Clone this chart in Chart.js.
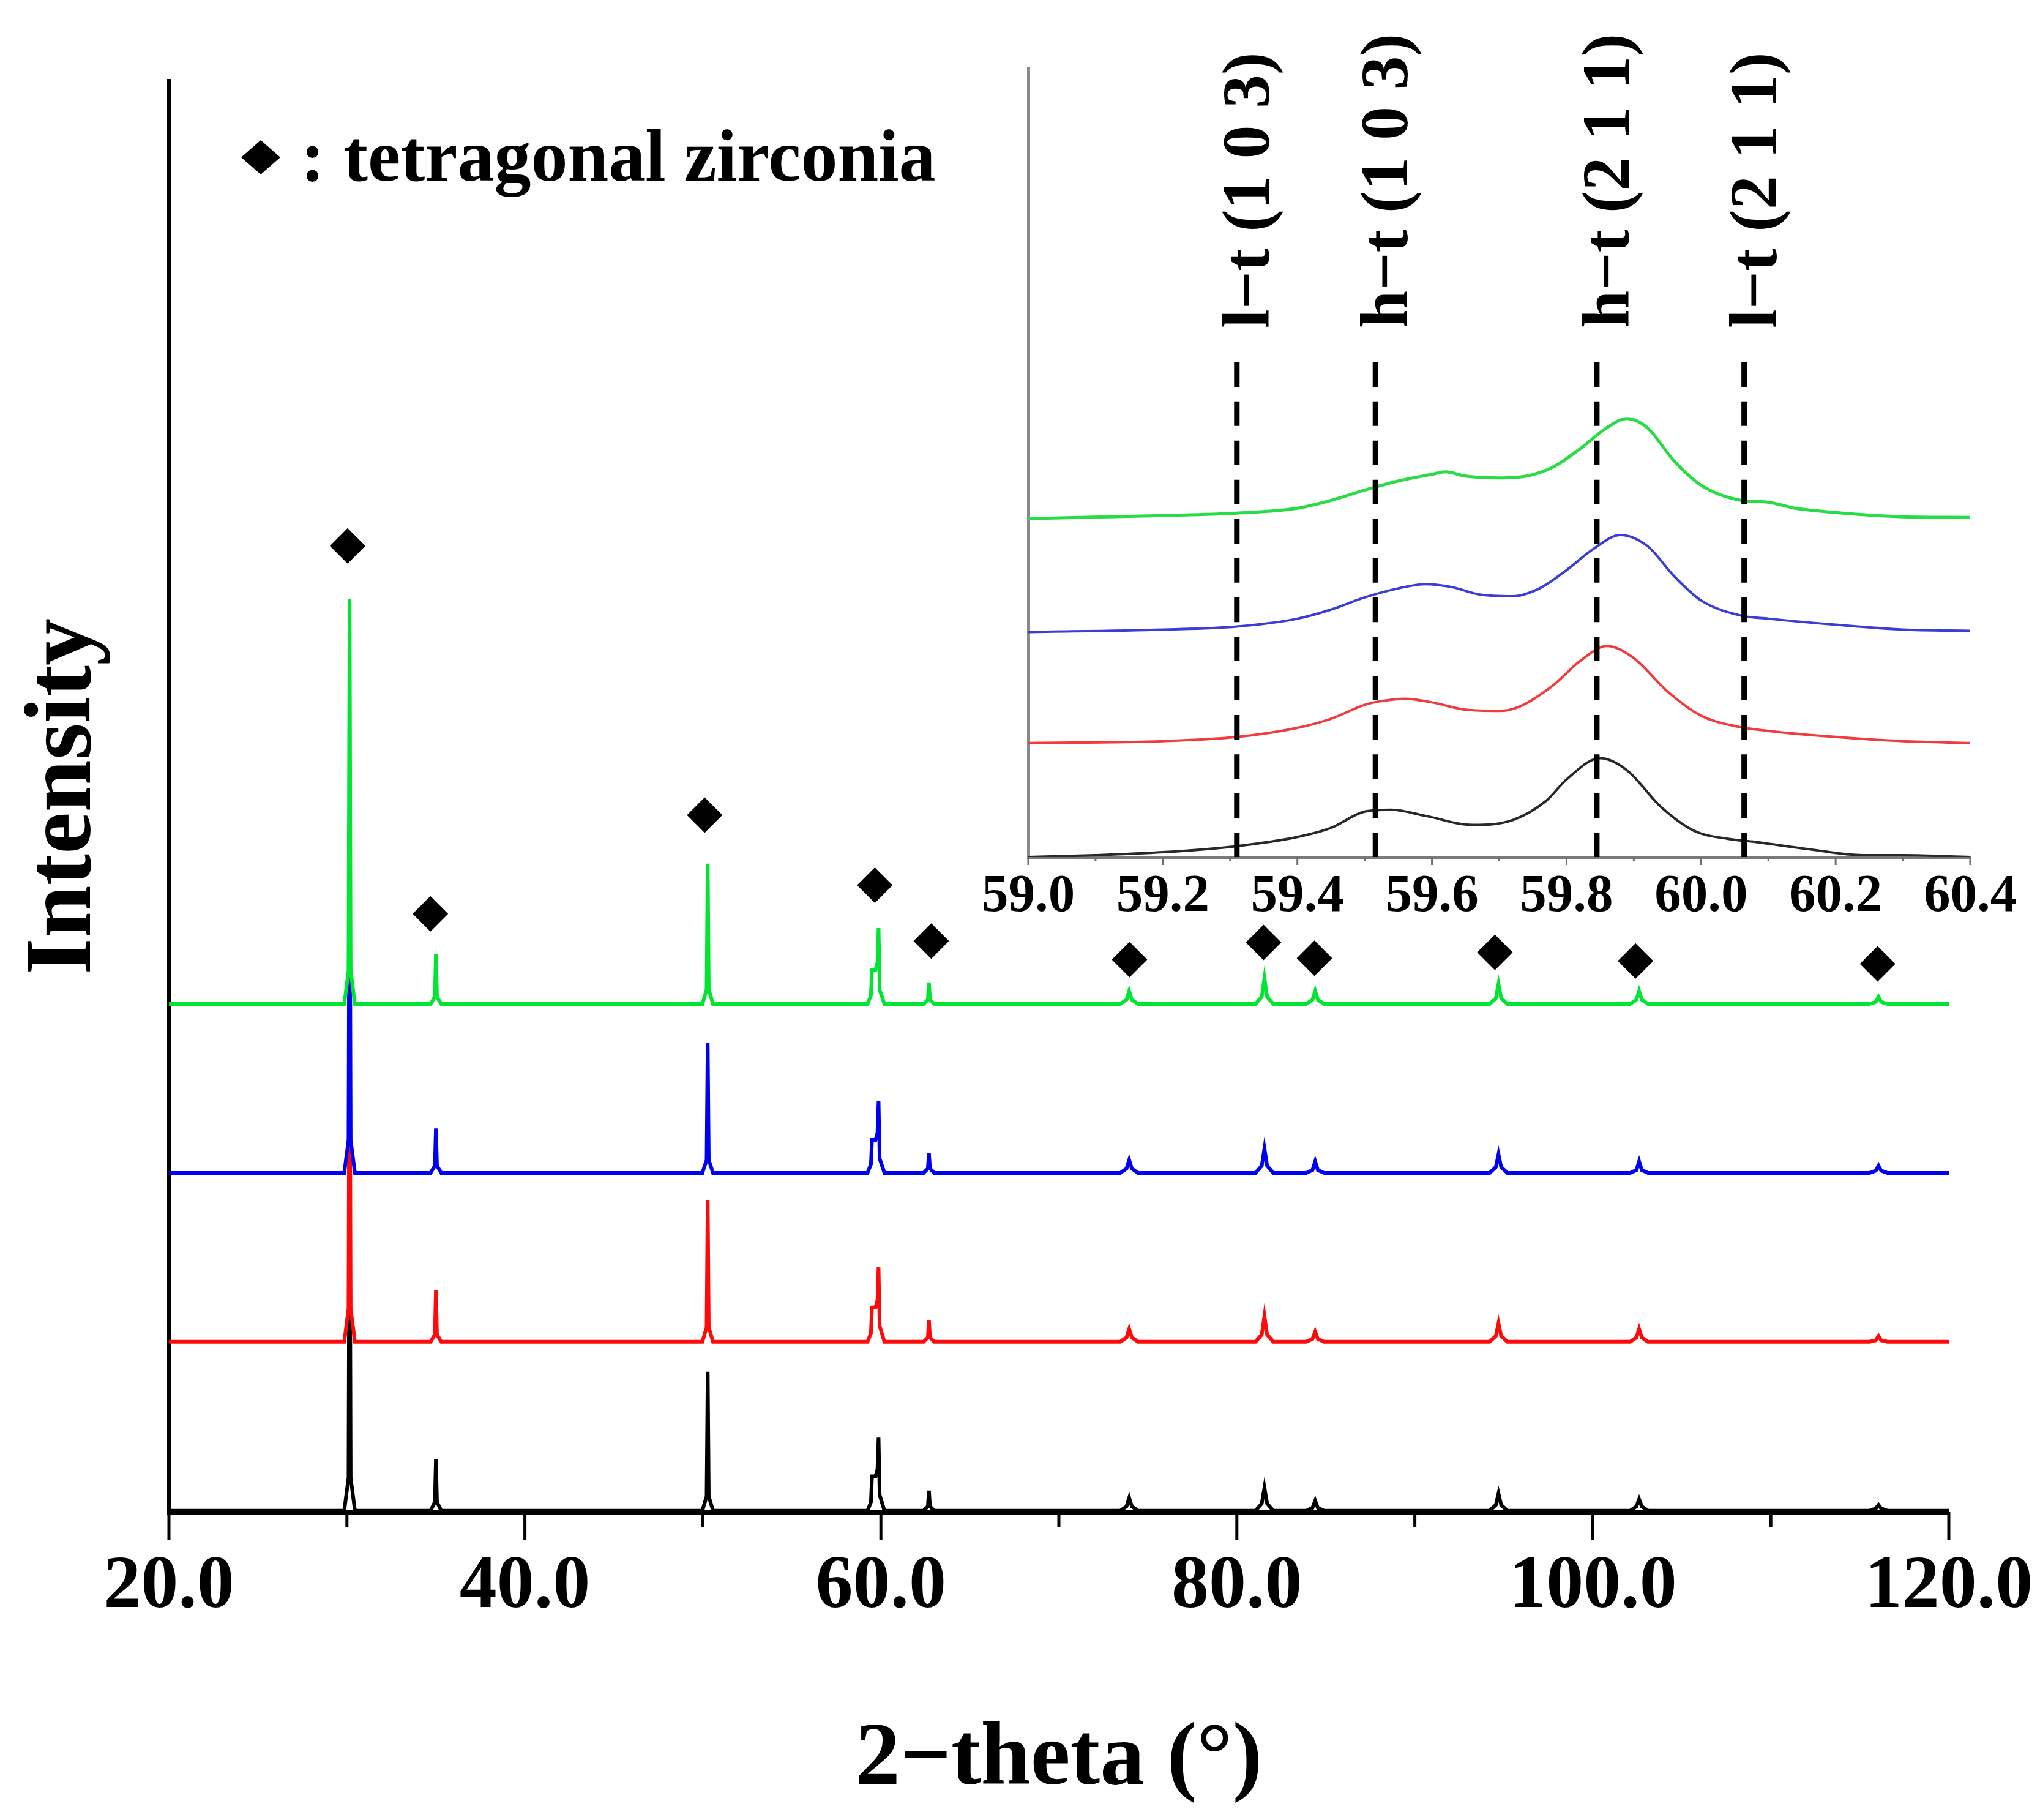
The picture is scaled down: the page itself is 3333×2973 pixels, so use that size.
<!DOCTYPE html>
<html lang="en">

<head>
    <meta charset="UTF-8">
    <title>XRD tetragonal zirconia</title>
    <script src="https://cdn.jsdelivr.net/npm/chart.js"></script>
    <style>
        body {
            margin: 0;
            padding: 0;
            background-color: #ffffff;
            overflow: hidden;
        }

        .main-box {
            position: absolute;
            left: 0;
            top: 0;
            width: 3333px;
            height: 2973px;
        }

        .inset-box {
            position: absolute;
            left: 1400px;
            top: 0;
            width: 1933px;
            height: 1560px;
        }
    </style>
</head>

<body>
    <div class="main-box"><canvas id="mainChart"></canvas></div>
    <div class="inset-box"><canvas id="insetChart"></canvas></div>

    <script>
        // ---- main pattern (offset stacked traces) ----
        const theta = [20,
            29.85, 30.09, 30.15, 30.21, 30.45,
            34.7, 34.94, 35.0, 35.06, 35.3,
            49.97, 50.21, 50.27, 50.33, 50.57,
            59.25, 59.44, 59.5, 59.7, 59.81, 59.87, 59.93, 60.2,
            62.4, 62.64, 62.7, 62.76, 63.0,
            73.45, 73.8, 73.95, 74.1, 74.45,
            81.05, 81.4, 81.55, 81.7, 82.05,
            83.9, 84.25, 84.4, 84.55, 84.9,
            94.2, 94.55, 94.7, 94.85, 95.2,
            102.1, 102.45, 102.6, 102.75, 103.1,
            115.55, 115.9, 116.05, 116.2, 116.55,
            120];

        const greenI = [35.5,
            35.5, 37.8, 63.8, 37.8, 35.5,
            35.5, 36.0, 39.0, 36.0, 35.5,
            35.5, 36.5, 45.3, 36.5, 35.5,
            35.5, 36.1, 37.9, 37.9, 38.4, 40.8, 36.5, 35.5,
            35.5, 35.8, 37.0, 35.8, 35.5,
            35.5, 35.8, 36.4, 35.8, 35.5,
            35.5, 36.0, 37.3, 36.0, 35.5,
            35.5, 35.8, 36.4, 35.8, 35.5,
            35.5, 35.9, 36.9, 35.9, 35.5,
            35.5, 35.8, 36.4, 35.8, 35.5,
            35.5, 35.65, 36.0, 35.65, 35.5,
            35.5];

        const blueI = [23.7,
            23.7, 26.0, 52.0, 26.0, 23.7,
            23.7, 24.2, 26.8, 24.2, 23.7,
            23.7, 24.6, 32.8, 24.6, 23.7,
            23.7, 24.3, 26.0, 26.0, 26.5, 28.7, 24.7, 23.7,
            23.7, 24.0, 25.1, 24.0, 23.7,
            23.7, 24.0, 24.6, 24.0, 23.7,
            23.7, 24.2, 25.4, 24.2, 23.7,
            23.7, 23.9, 24.5, 23.9, 23.7,
            23.7, 24.1, 25.0, 24.1, 23.7,
            23.7, 23.9, 24.5, 23.9, 23.7,
            23.7, 23.85, 24.2, 23.85, 23.7,
            23.7];

        const redI = [11.9,
            11.9, 14.2, 40.2, 14.2, 11.9,
            11.9, 12.4, 15.5, 12.4, 11.9,
            11.9, 12.9, 21.8, 12.9, 11.9,
            11.9, 12.5, 14.3, 14.3, 14.8, 17.1, 13.0, 11.9,
            11.9, 12.2, 13.4, 12.2, 11.9,
            11.9, 12.2, 12.8, 12.2, 11.9,
            11.9, 12.4, 13.7, 12.4, 11.9,
            11.9, 12.1, 12.6, 12.1, 11.9,
            11.9, 12.3, 13.2, 12.3, 11.9,
            11.9, 12.2, 12.8, 12.2, 11.9,
            11.9, 12.0, 12.3, 12.0, 11.9,
            11.9];

        const blackI = [0.1,
            0.1, 2.4, 28.5, 2.4, 0.1,
            0.1, 0.7, 3.7, 0.7, 0.1,
            0.1, 1.1, 9.8, 1.1, 0.1,
            0.1, 0.7, 2.5, 2.5, 3.0, 5.2, 1.2, 0.1,
            0.1, 0.4, 1.5, 0.4, 0.1,
            0.1, 0.4, 1.0, 0.4, 0.1,
            0.1, 0.6, 1.7, 0.6, 0.1,
            0.1, 0.3, 0.8, 0.3, 0.1,
            0.1, 0.5, 1.3, 0.5, 0.1,
            0.1, 0.4, 0.9, 0.4, 0.1,
            0.1, 0.25, 0.5, 0.25, 0.1,
            0.1];

        // diamond markers (tetragonal zirconia)
        const markTheta = [30.04, 34.69, 50.1, 59.66, 62.83, 73.97, 81.5, 84.36, 94.5, 102.4, 116.0];
        const markI = [67.5, 41.8, 48.7, 43.8, 39.9, 38.6, 39.8, 38.7, 39.1, 38.5, 38.3];

        // ---- inset 59.0 - 60.4 ----
        const inBlackX = [59.0, 59.1, 59.2, 59.31, 59.4, 59.45, 59.5, 59.54, 59.59, 59.66, 59.72, 59.77, 59.8, 59.85, 59.89, 59.94, 59.99, 60.04, 60.08, 60.16, 60.24, 60.3, 60.4];
        const inBlackY = [0, 3, 8, 18, 33, 48, 75, 78, 68, 53, 61, 93, 128, 163, 143, 83, 43, 30, 25, 13, 3, 3, 0];
        const inRedX = [59.0, 59.2, 59.31, 59.4, 59.45, 59.5, 59.53, 59.56, 59.6, 59.65, 59.7, 59.73, 59.78, 59.82, 59.86, 59.9, 59.95, 60.0, 60.05, 60.1, 60.2, 60.3, 60.4];
        const inRedY = [188, 191, 198, 213, 228, 251, 258, 261, 255, 243, 241, 248, 283, 323, 348, 328, 273, 233, 216, 208, 198, 191, 188];
        const inBlueX = [59.0, 59.2, 59.31, 59.4, 59.45, 59.5, 59.55, 59.59, 59.63, 59.67, 59.72, 59.76, 59.8, 59.84, 59.88, 59.92, 59.96, 60.0, 60.06, 60.1, 60.2, 60.3, 60.4];
        const inBlueY = [371, 375, 380, 393, 408, 428, 443, 450, 445, 433, 430, 443, 473, 508, 531, 513, 463, 423, 398, 393, 383, 375, 373];
        const inGreenX = [59.0, 59.2, 59.31, 59.4, 59.45, 59.5, 59.55, 59.6, 59.62, 59.65, 59.7, 59.74, 59.78, 59.82, 59.86, 59.89, 59.92, 59.96, 60.0, 60.06, 60.1, 60.14, 60.2, 60.3, 60.4];
        const inGreenY = [558, 563, 567, 575, 588, 605, 620, 631, 635, 628, 625, 628, 643, 673, 708, 723, 708, 653, 613, 588, 585, 575, 568, 561, 560];

        // reference positions (dashed lines)
        const refTheta = [59.31, 59.516, 59.845, 60.064];
        const refLabels = ['l\u2212t (1 0 3)', 'h\u2212t (1 0 3)', 'h\u2212t (2 1 1)', 'l\u2212t (2 1 1)'];
        const refTop = 838;

        const serif = "'Liberation Serif', 'Times New Roman', serif";
        Chart.defaults.font.family = serif;
        Chart.defaults.color = '#000';

        const pts = (xs, ys) => xs.map((x, i) => ({ x: x, y: ys[i] }));

        function trace(data, color, width) {
            return {
                data: data,
                borderColor: color,
                borderWidth: width,
                pointRadius: 0,
                fill: false
            };
        }

        // fixed axis box sizes, no extra room for edge labels
        function fixBox(w, h) {
            return s => {
                if (w !== null) s.width = w;
                if (h !== null) s.height = h;
                s.paddingLeft = 0;
                s.paddingRight = 0;
                s.paddingTop = 0;
                s.paddingBottom = 0;
            };
        }

        // tick marks under the main x axis (long every 20, short every 10)
        const mainTicks = {
            id: 'mainTicks',
            afterDraw(chart) {
                const x = chart.scales.x;
                const c = chart.ctx;
                const y0 = chart.chartArea.bottom;
                c.save();
                c.strokeStyle = '#000';
                c.lineWidth = 5;
                for (let v = x.min; v <= x.max; v += 10) {
                    const px = x.getPixelForValue(v);
                    c.beginPath();
                    c.moveTo(px, y0);
                    c.lineTo(px, y0 + ((v - x.min) % 20 === 0 ? 45 : 24));
                    c.stroke();
                }
                c.restore();
            }
        };

        // "◆ : tetragonal zirconia" note
        const markNote = {
            id: 'markNote',
            afterDraw(chart) {
                const c = chart.ctx;
                c.save();
                c.fillStyle = '#000';
                c.beginPath();
                c.moveTo(426, 257 - 28);
                c.lineTo(426 + 32, 257);
                c.lineTo(426, 257 + 28);
                c.lineTo(426 - 32, 257);
                c.closePath();
                c.fill();
                c.font = 'bold 120px ' + serif;
                c.textBaseline = 'alphabetic';
                c.textAlign = 'left';
                c.fillText(': tetragonal zirconia', 491, 295);
                c.restore();
            }
        };

        const mainChart = new Chart(document.getElementById('mainChart'), {
            type: 'line',
            data: {
                datasets: [{
                    type: 'scatter',
                    data: pts(markTheta, markI),
                    pointStyle: 'rectRot',
                    pointRadius: 29,
                    backgroundColor: '#000',
                    borderWidth: 0,
                    showLine: false
                },
                    trace(pts(theta, greenI), 'rgb(0,228,50)', 6),
                    trace(pts(theta, blueI), 'rgb(0,0,240)', 6),
                    trace(pts(theta, redI), 'rgb(255,10,10)', 6),
                    trace(pts(theta, blackI), '#000', 6)
                ]
            },
            options: {
                responsive: true,
                maintainAspectRatio: false,
                animation: false,
                events: [],
                layout: {
                    padding: { left: 0, top: 132, right: 149, bottom: 0 }
                },
                elements: { line: { tension: 0 } },
                plugins: {
                    legend: { display: false },
                    tooltip: { enabled: false }
                },
                scales: {
                    x: {
                        type: 'linear',
                        min: 20,
                        max: 120,
                        afterFit: fixBox(null, 503),
                        grid: { display: false, drawTicks: false },
                        border: { display: true, color: '#000', width: 7 },
                        ticks: {
                            stepSize: 20,
                            autoSkip: false,
                            maxRotation: 0,
                            padding: 62,
                            font: { size: 122, weight: 'bold', lineHeight: 1 },
                            callback: v => Number(v).toFixed(1)
                        },
                        title: {
                            display: true,
                            text: '2\u2212theta (\u00b0)',
                            font: { size: 146, weight: 'bold', lineHeight: 1 },
                            padding: { top: 0, bottom: 24 }
                        }
                    },
                    y: {
                        type: 'linear',
                        min: 0,
                        max: 100,
                        afterFit: fixBox(276, null),
                        grid: { display: false, drawTicks: false },
                        border: { display: true, color: '#000', width: 7 },
                        ticks: { display: false },
                        title: {
                            display: true,
                            text: 'Intensity',
                            font: { size: 154, weight: 'bold', lineHeight: 1 },
                            padding: { top: 30, bottom: 0 }
                        }
                    }
                }
            },
            plugins: [mainTicks, markNote]
        });

        // small ticks on the inset axis every 0.1
        const insetTicks = {
            id: 'insetTicks',
            afterDraw(chart) {
                const x = chart.scales.x;
                const c = chart.ctx;
                const y0 = chart.chartArea.bottom;
                c.save();
                c.strokeStyle = '#6e6e6e';
                c.lineWidth = 3;
                for (let i = 0; i <= 14; i++) {
                    const px = x.getPixelForValue(x.min + i * 0.1);
                    c.beginPath();
                    c.moveTo(px, y0);
                    c.lineTo(px, y0 + (i % 2 === 0 ? 13 : 6));
                    c.stroke();
                }
                c.restore();
            }
        };

        // rotated phase labels above the dashed lines
        const refText = {
            id: 'refText',
            afterDraw(chart) {
                const x = chart.scales.x;
                const c = chart.ctx;
                c.save();
                c.fillStyle = '#000';
                c.font = 'bold 110px ' + serif;
                c.textAlign = 'left';
                c.textBaseline = 'alphabetic';
                refTheta.forEach((t, i) => {
                    c.save();
                    c.translate(x.getPixelForValue(t) + 52, 536);
                    c.rotate(-Math.PI / 2);
                    c.fillText(refLabels[i], 0, 0);
                    c.restore();
                });
                c.restore();
            }
        };

        const refSets = refTheta.map(t => ({
            data: [{ x: t, y: 0 }, { x: t, y: refTop }],
            borderColor: '#000',
            borderWidth: 9,
            borderDash: [40, 24],
            pointRadius: 0,
            fill: false
        }));

        const insetChart = new Chart(document.getElementById('insetChart'), {
            type: 'line',
            data: {
                datasets: [
                    ...refSets,
                    trace(pts(inGreenX, inGreenY), 'rgb(40,220,70)', 5),
                    trace(pts(inBlueX, inBlueY), 'rgb(60,60,215)', 4),
                    trace(pts(inRedX, inRedY), 'rgb(240,60,60)', 4),
                    trace(pts(inBlackX, inBlackY), 'rgb(40,40,40)', 4)
                ]
            },
            options: {
                responsive: true,
                maintainAspectRatio: false,
                animation: false,
                events: [],
                layout: {
                    padding: { left: 0, top: 112, right: 114, bottom: 0 }
                },
                elements: { line: { cubicInterpolationMode: 'monotone' } },
                plugins: {
                    legend: { display: false },
                    tooltip: { enabled: false }
                },
                scales: {
                    x: {
                        type: 'linear',
                        min: 59.0,
                        max: 60.4,
                        afterFit: fixBox(null, 160),
                        grid: { display: false, drawTicks: false },
                        border: { display: true, color: '#7a7a7a', width: 5 },
                        ticks: {
                            stepSize: 0.2,
                            autoSkip: false,
                            maxRotation: 0,
                            padding: 22,
                            font: { size: 87, weight: 'bold', lineHeight: 1 },
                            callback: v => Number(v).toFixed(1)
                        }
                    },
                    y: {
                        type: 'linear',
                        min: 0,
                        max: 1300,
                        afterFit: fixBox(280, null),
                        grid: { display: false, drawTicks: false },
                        border: { display: true, color: '#8a8a8a', width: 5 },
                        ticks: { display: false }
                    }
                }
            },
            plugins: [insetTicks, refText]
        });
    </script>
</body>

</html>
